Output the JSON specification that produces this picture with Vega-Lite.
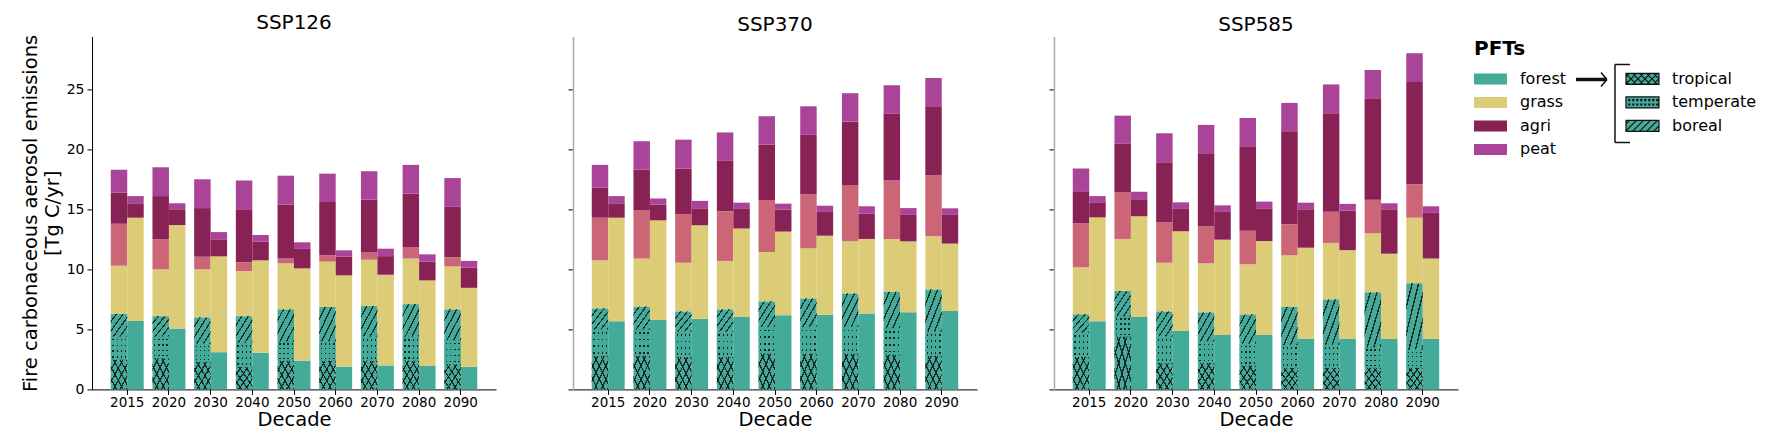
{
  "$schema": "https://vega.github.io/schema/vega-lite/v6.json",
  "background": "white",
  "padding": {"left": 20, "top": 12.4, "right": 5, "bottom": 3},
  "config": {
    "view": {"stroke": null},
    "font": "DejaVu Sans",
    "title": {"font": "DejaVu Sans", "fontSize": 20, "fontWeight": "normal", "offset": 1, "color": "black"},
    "axis": {"labelFont": "DejaVu Sans", "titleFont": "DejaVu Sans", "labelColor": "black", "titleColor": "black", "tickColor": "black", "domainColor": "black", "grid": false, "titleFontWeight": "normal", "tickSize": 5}
  },
  "data": {"values": [
    {"s":"SSP126","d":2015,"m":"L","tropical":2.5,"temperate":1.9,"boreal":1.9,"grass":4.0,"other":3.5,"agri":2.6,"peat":1.9},
    {"s":"SSP126","d":2020,"m":"L","tropical":2.6,"temperate":1.8,"boreal":1.7,"grass":3.9,"other":2.5,"agri":3.6,"peat":2.4},
    {"s":"SSP126","d":2030,"m":"L","tropical":2.3,"temperate":1.5,"boreal":2.2,"grass":4.0,"other":1.05,"agri":4.05,"peat":2.4},
    {"s":"SSP126","d":2040,"m":"L","tropical":1.9,"temperate":2.0,"boreal":2.2,"grass":3.76,"other":0.74,"agri":4.4,"peat":2.4},
    {"s":"SSP126","d":2050,"m":"L","tropical":2.4,"temperate":1.6,"boreal":2.67,"grass":3.83,"other":0.4,"agri":4.5,"peat":2.4},
    {"s":"SSP126","d":2060,"m":"L","tropical":2.4,"temperate":1.6,"boreal":2.86,"grass":3.78,"other":0.53,"agri":4.43,"peat":2.37},
    {"s":"SSP126","d":2070,"m":"L","tropical":2.4,"temperate":2.0,"boreal":2.54,"grass":3.86,"other":0.6,"agri":4.4,"peat":2.37},
    {"s":"SSP126","d":2080,"m":"L","tropical":2.4,"temperate":2.0,"boreal":2.7,"grass":3.8,"other":0.96,"agri":4.44,"peat":2.4},
    {"s":"SSP126","d":2090,"m":"L","tropical":2.1,"temperate":2.0,"boreal":2.57,"grass":3.57,"other":0.76,"agri":4.2,"peat":2.4},
    {"s":"SSP126","d":2015,"m":"R","forest":5.7,"grass":8.6,"agri":1.2,"peat":0.6},
    {"s":"SSP126","d":2020,"m":"R","forest":5.08,"grass":8.62,"agri":1.3,"peat":0.5},
    {"s":"SSP126","d":2030,"m":"R","forest":3.1,"grass":7.98,"agri":1.42,"peat":0.6},
    {"s":"SSP126","d":2040,"m":"R","forest":3.05,"grass":7.7,"agri":1.55,"peat":0.56},
    {"s":"SSP126","d":2050,"m":"R","forest":2.4,"grass":7.68,"agri":1.62,"peat":0.55},
    {"s":"SSP126","d":2060,"m":"R","forest":1.9,"grass":7.6,"agri":1.56,"peat":0.52},
    {"s":"SSP126","d":2070,"m":"R","forest":2.0,"grass":7.55,"agri":1.55,"peat":0.62},
    {"s":"SSP126","d":2080,"m":"R","forest":1.95,"grass":7.13,"agri":1.56,"peat":0.61},
    {"s":"SSP126","d":2090,"m":"R","forest":1.88,"grass":6.58,"agri":1.69,"peat":0.55},
    {"s":"SSP370","d":2015,"m":"L","tropical":2.8,"temperate":2.2,"boreal":1.75,"grass":4.0,"other":3.55,"agri":2.5,"peat":1.9},
    {"s":"SSP370","d":2020,"m":"L","tropical":2.8,"temperate":2.2,"boreal":1.9,"grass":4.0,"other":4.0,"agri":3.4,"peat":2.37},
    {"s":"SSP370","d":2030,"m":"L","tropical":2.7,"temperate":2.1,"boreal":1.7,"grass":4.05,"other":4.05,"agri":3.8,"peat":2.4},
    {"s":"SSP370","d":2040,"m":"L","tropical":2.7,"temperate":2.1,"boreal":1.87,"grass":4.03,"other":4.13,"agri":4.2,"peat":2.37},
    {"s":"SSP370","d":2050,"m":"L","tropical":3.0,"temperate":2.2,"boreal":2.13,"grass":4.11,"other":4.34,"agri":4.62,"peat":2.35},
    {"s":"SSP370","d":2060,"m":"L","tropical":3.0,"temperate":2.2,"boreal":2.38,"grass":4.18,"other":4.49,"agri":4.95,"peat":2.38},
    {"s":"SSP370","d":2070,"m":"L","tropical":3.0,"temperate":2.2,"boreal":2.8,"grass":4.33,"other":4.7,"agri":5.27,"peat":2.37},
    {"s":"SSP370","d":2080,"m":"L","tropical":2.9,"temperate":2.2,"boreal":3.04,"grass":4.39,"other":4.87,"agri":5.57,"peat":2.36},
    {"s":"SSP370","d":2090,"m":"L","tropical":2.8,"temperate":2.0,"boreal":3.53,"grass":4.42,"other":5.08,"agri":5.75,"peat":2.36},
    {"s":"SSP370","d":2015,"m":"R","forest":5.67,"grass":8.63,"agri":1.2,"peat":0.6},
    {"s":"SSP370","d":2020,"m":"R","forest":5.78,"grass":8.3,"agri":1.32,"peat":0.5},
    {"s":"SSP370","d":2030,"m":"R","forest":5.89,"grass":7.78,"agri":1.41,"peat":0.62},
    {"s":"SSP370","d":2040,"m":"R","forest":6.03,"grass":7.37,"agri":1.63,"peat":0.52},
    {"s":"SSP370","d":2050,"m":"R","forest":6.17,"grass":6.97,"agri":1.83,"peat":0.5},
    {"s":"SSP370","d":2060,"m":"R","forest":6.22,"grass":6.58,"agri":1.98,"peat":0.52},
    {"s":"SSP370","d":2070,"m":"R","forest":6.33,"grass":6.2,"agri":2.11,"peat":0.61},
    {"s":"SSP370","d":2080,"m":"R","forest":6.42,"grass":5.91,"agri":2.25,"peat":0.52},
    {"s":"SSP370","d":2090,"m":"R","forest":6.53,"grass":5.61,"agri":2.44,"peat":0.5},
    {"s":"SSP585","d":2015,"m":"L","tropical":2.7,"temperate":2.0,"boreal":1.55,"grass":3.92,"other":3.66,"agri":2.67,"peat":1.9},
    {"s":"SSP585","d":2020,"m":"L","tropical":4.4,"temperate":1.7,"boreal":2.09,"grass":4.34,"other":3.87,"agri":4.05,"peat":2.35},
    {"s":"SSP585","d":2030,"m":"L","tropical":2.2,"temperate":2.2,"boreal":2.1,"grass":4.05,"other":3.34,"agri":5.03,"peat":2.41},
    {"s":"SSP585","d":2040,"m":"L","tropical":2.2,"temperate":1.8,"boreal":2.42,"grass":4.08,"other":3.06,"agri":6.11,"peat":2.36},
    {"s":"SSP585","d":2050,"m":"L","tropical":2.0,"temperate":1.8,"boreal":2.45,"grass":4.17,"other":2.8,"agri":7.03,"peat":2.35},
    {"s":"SSP585","d":2060,"m":"L","tropical":1.8,"temperate":1.9,"boreal":3.16,"grass":4.31,"other":2.58,"agri":7.75,"peat":2.36},
    {"s":"SSP585","d":2070,"m":"L","tropical":1.8,"temperate":1.9,"boreal":3.8,"grass":4.7,"other":2.6,"agri":8.2,"peat":2.4},
    {"s":"SSP585","d":2080,"m":"L","tropical":1.8,"temperate":1.7,"boreal":4.6,"grass":4.9,"other":2.8,"agri":8.45,"peat":2.35},
    {"s":"SSP585","d":2090,"m":"L","tropical":1.8,"temperate":1.5,"boreal":5.55,"grass":5.45,"other":2.8,"agri":8.5,"peat":2.4},
    {"s":"SSP585","d":2015,"m":"R","forest":5.67,"grass":8.66,"agri":1.2,"peat":0.57},
    {"s":"SSP585","d":2020,"m":"R","forest":6.03,"grass":8.39,"agri":1.41,"peat":0.64},
    {"s":"SSP585","d":2030,"m":"R","forest":4.86,"grass":8.31,"agri":1.86,"peat":0.55},
    {"s":"SSP585","d":2040,"m":"R","forest":4.53,"grass":7.94,"agri":2.31,"peat":0.55},
    {"s":"SSP585","d":2050,"m":"R","forest":4.53,"grass":7.83,"agri":2.72,"peat":0.56},
    {"s":"SSP585","d":2060,"m":"R","forest":4.23,"grass":7.57,"agri":3.2,"peat":0.55},
    {"s":"SSP585","d":2070,"m":"R","forest":4.2,"grass":7.4,"agri":3.3,"peat":0.55},
    {"s":"SSP585","d":2080,"m":"R","forest":4.2,"grass":7.1,"agri":3.7,"peat":0.5},
    {"s":"SSP585","d":2090,"m":"R","forest":4.2,"grass":6.7,"agri":3.8,"peat":0.55}
  ]},
  "hconcat": [
    {
      "width": 404, "height": 353,
      "title": "SSP126",
      "transform": [
        {"filter": "datum.s === 'SSP126'"},
        {"fold": ["tropical","temperate","boreal","forest","grass","other","agri","peat"], "as": ["pft","v"]},
        {"filter": "isValid(datum.v)"},
        {"calculate": "indexof(['tropical','temperate','boreal','forest','grass','other','agri','peat'], datum.pft)", "as": "ord"},
        {"stack": "v", "groupby": ["d","m"], "sort": [{"field": "ord", "order": "ascending"}], "as": ["y0","y1"]}
      ],
      "encoding": {
        "x": {"field": "d", "type": "ordinal", "title": "Decade", "scale": {"paddingInner": 0.21, "paddingOuter": 0.45}, "axis": {"labelAngle": 0, "labelFontSize": 13.5, "titleFontSize": 19.5, "labelPadding": 1, "titlePadding": 2}},
        "xOffset": {"field": "m", "type": "nominal", "scale": {"domain": ["L","R"], "paddingInner": 0, "paddingOuter": 0}},
        "y": {"field": "y1", "type": "quantitative", "scale": {"domain": [0, 29.4], "nice": false}, "axis": {"values": [0,5,10,15,20,25], "title": ["Fire carbonaceous aerosol emissions", "[Tg C/yr]"], "titleFontSize": 19.5, "titlePadding": 4, "labelFontSize": 14, "labelPadding": 3}},
        "y2": {"field": "y0"}
      },
      "layer": [
        {"mark": {"type": "bar"}, "encoding": {"color": {"field": "pft", "type": "nominal", "title": "PFTs",
          "scale": {"domain": ["forest","tropical","grass","temperate","agri","boreal","peat","other"], "range": ["#44AA99","#44AA99","#DDCC77","#44AA99","#882255","#44AA99","#AA4499","#CC6677"]},
          "legend": {
            "values": ["forest","grass","agri","peat","tropical","temperate","boreal"],
            "orient": "none", "legendX": 1382, "legendY": 3,
            "columns": 2, "columnPadding": 56, "rowPadding": 7.5,
            "symbolType": "M-1,-0.69H3.125V0.69H-1Z", "symbolSize": 256, "symbolStrokeWidth": 0, "symbolOpacity": 1,
            "labelOffset": 30, "labelFontSize": 16, "labelFont": "DejaVu Sans", "labelColor": "black",
            "titleFontSize": 20, "titleFont": "DejaVu Sans", "titleFontWeight": "bold", "titleColor": "black", "titlePadding": 11.5,
            "encode": {"symbols": {"update": {
              "shape": {"signal": "datum.value === 'tropical' ? 'M-1,-0.69H3.125V0.69H-1ZM-1,-0.25L-0.56,-0.69M-1,0.625L0.315,-0.69M-0.19,0.69L1.19,-0.69M0.685,0.69L2.065,-0.69M1.56,0.69L2.94,-0.69M2.435,0.69L3.125,0M-1,0.25L-0.56,0.69M-1,-0.625L0.315,0.69M-0.19,-0.69L1.19,0.69M0.685,-0.69L2.065,0.69M1.56,-0.69L2.94,0.69M2.435,-0.69L3.125,0' : datum.value === 'temperate' ? 'M-1,-0.69H3.125V0.69H-1ZM-0.65,-0.35h0.12v0.12h-0.12ZM-0.15,-0.35h0.12v0.12h-0.12ZM0.35,-0.35h0.12v0.12h-0.12ZM0.85,-0.35h0.12v0.12h-0.12ZM1.35,-0.35h0.12v0.12h-0.12ZM1.85,-0.35h0.12v0.12h-0.12ZM2.35,-0.35h0.12v0.12h-0.12ZM2.85,-0.35h0.12v0.12h-0.12ZM-0.65,0.2h0.12v0.12h-0.12ZM-0.15,0.2h0.12v0.12h-0.12ZM0.35,0.2h0.12v0.12h-0.12ZM0.85,0.2h0.12v0.12h-0.12ZM1.35,0.2h0.12v0.12h-0.12ZM1.85,0.2h0.12v0.12h-0.12ZM2.35,0.2h0.12v0.12h-0.12ZM2.85,0.2h0.12v0.12h-0.12Z' : datum.value === 'boreal' ? 'M-1,-0.69H3.125V0.69H-1ZM-1,-0.25L-0.56,-0.69M-1,0.625L0.315,-0.69M-0.19,0.69L1.19,-0.69M0.685,0.69L2.065,-0.69M1.56,0.69L2.94,-0.69M2.435,0.69L3.125,0' : 'M-1,-0.69H3.125V0.69H-1Z'"},
              "stroke": {"signal": "indexof(['tropical','temperate','boreal'], datum.value) >= 0 ? '#111111' : 'transparent'"},
              "strokeWidth": {"signal": "indexof(['tropical','temperate','boreal'], datum.value) >= 0 ? 1.2 : 0"}
            }}}
          }}}},
        {"transform": [{"filter": "datum.pft === 'tropical'"}], "mark": {"type": "bar", "fill": {"gradient":"linear","x1":0,"y1":0,"x2":1,"y2":1,"stops":[{"offset":0,"color":"rgba(0,0,0,0)"},{"offset":0.156,"color":"rgba(0,0,0,0)"},{"offset":0.156,"color":"rgba(20,20,20,0.85)"},{"offset":0.2,"color":"rgba(20,20,20,0.85)"},{"offset":0.2,"color":"rgba(0,0,0,0)"},{"offset":0.356,"color":"rgba(0,0,0,0)"},{"offset":0.356,"color":"rgba(20,20,20,0.85)"},{"offset":0.4,"color":"rgba(20,20,20,0.85)"},{"offset":0.4,"color":"rgba(0,0,0,0)"},{"offset":0.556,"color":"rgba(0,0,0,0)"},{"offset":0.556,"color":"rgba(20,20,20,0.85)"},{"offset":0.6,"color":"rgba(20,20,20,0.85)"},{"offset":0.6,"color":"rgba(0,0,0,0)"},{"offset":0.756,"color":"rgba(0,0,0,0)"},{"offset":0.756,"color":"rgba(20,20,20,0.85)"},{"offset":0.8,"color":"rgba(20,20,20,0.85)"},{"offset":0.8,"color":"rgba(0,0,0,0)"},{"offset":0.956,"color":"rgba(0,0,0,0)"},{"offset":0.956,"color":"rgba(20,20,20,0.85)"},{"offset":1,"color":"rgba(20,20,20,0.85)"}]}}},
        {"transform": [{"filter": "datum.pft === 'tropical'"}], "mark": {"type": "bar", "fill": {"gradient":"linear","x1":0,"y1":1,"x2":1,"y2":0,"stops":[{"offset":0,"color":"rgba(0,0,0,0)"},{"offset":0.156,"color":"rgba(0,0,0,0)"},{"offset":0.156,"color":"rgba(20,20,20,0.85)"},{"offset":0.2,"color":"rgba(20,20,20,0.85)"},{"offset":0.2,"color":"rgba(0,0,0,0)"},{"offset":0.356,"color":"rgba(0,0,0,0)"},{"offset":0.356,"color":"rgba(20,20,20,0.85)"},{"offset":0.4,"color":"rgba(20,20,20,0.85)"},{"offset":0.4,"color":"rgba(0,0,0,0)"},{"offset":0.556,"color":"rgba(0,0,0,0)"},{"offset":0.556,"color":"rgba(20,20,20,0.85)"},{"offset":0.6,"color":"rgba(20,20,20,0.85)"},{"offset":0.6,"color":"rgba(0,0,0,0)"},{"offset":0.756,"color":"rgba(0,0,0,0)"},{"offset":0.756,"color":"rgba(20,20,20,0.85)"},{"offset":0.8,"color":"rgba(20,20,20,0.85)"},{"offset":0.8,"color":"rgba(0,0,0,0)"},{"offset":0.956,"color":"rgba(0,0,0,0)"},{"offset":0.956,"color":"rgba(20,20,20,0.85)"},{"offset":1,"color":"rgba(20,20,20,0.85)"}]}}},
        {"transform": [{"filter": "datum.pft === 'temperate'"}], "mark": {"type": "bar", "fill": {"gradient":"linear","x1":0,"y1":0,"x2":1,"y2":0,"stops":[{"offset":0,"color":"rgba(0,0,0,0)"},{"offset":0.1,"color":"rgba(0,0,0,0)"},{"offset":0.1,"color":"rgba(20,20,20,0.9)"},{"offset":0.18,"color":"rgba(20,20,20,0.9)"},{"offset":0.18,"color":"rgba(0,0,0,0)"},{"offset":0.35,"color":"rgba(0,0,0,0)"},{"offset":0.35,"color":"rgba(20,20,20,0.9)"},{"offset":0.43,"color":"rgba(20,20,20,0.9)"},{"offset":0.43,"color":"rgba(0,0,0,0)"},{"offset":0.6,"color":"rgba(0,0,0,0)"},{"offset":0.6,"color":"rgba(20,20,20,0.9)"},{"offset":0.68,"color":"rgba(20,20,20,0.9)"},{"offset":0.68,"color":"rgba(0,0,0,0)"},{"offset":0.85,"color":"rgba(0,0,0,0)"},{"offset":0.85,"color":"rgba(20,20,20,0.9)"},{"offset":0.93,"color":"rgba(20,20,20,0.9)"},{"offset":0.93,"color":"rgba(0,0,0,0)"},{"offset":1,"color":"rgba(0,0,0,0)"}]}}},
        {"transform": [{"filter": "datum.pft === 'temperate'"}], "mark": {"type": "bar", "fill": {"gradient":"linear","x1":0,"y1":0,"x2":0,"y2":1,"stops":[{"offset":0,"color":"#44AA99"},{"offset":0.1,"color":"#44AA99"},{"offset":0.1,"color":"rgba(0,0,0,0)"},{"offset":0.17,"color":"rgba(0,0,0,0)"},{"offset":0.17,"color":"#44AA99"},{"offset":0.35,"color":"#44AA99"},{"offset":0.35,"color":"rgba(0,0,0,0)"},{"offset":0.42,"color":"rgba(0,0,0,0)"},{"offset":0.42,"color":"#44AA99"},{"offset":0.6,"color":"#44AA99"},{"offset":0.6,"color":"rgba(0,0,0,0)"},{"offset":0.67,"color":"rgba(0,0,0,0)"},{"offset":0.67,"color":"#44AA99"},{"offset":0.85,"color":"#44AA99"},{"offset":0.85,"color":"rgba(0,0,0,0)"},{"offset":0.92,"color":"rgba(0,0,0,0)"},{"offset":0.92,"color":"#44AA99"},{"offset":1,"color":"#44AA99"}]}}},
        {"transform": [{"filter": "datum.pft === 'boreal'"}], "mark": {"type": "bar", "fill": {"gradient":"linear","x1":0,"y1":0,"x2":1,"y2":1,"stops":[{"offset":0,"color":"rgba(0,0,0,0)"},{"offset":0.156,"color":"rgba(0,0,0,0)"},{"offset":0.156,"color":"rgba(20,20,20,0.85)"},{"offset":0.2,"color":"rgba(20,20,20,0.85)"},{"offset":0.2,"color":"rgba(0,0,0,0)"},{"offset":0.356,"color":"rgba(0,0,0,0)"},{"offset":0.356,"color":"rgba(20,20,20,0.85)"},{"offset":0.4,"color":"rgba(20,20,20,0.85)"},{"offset":0.4,"color":"rgba(0,0,0,0)"},{"offset":0.556,"color":"rgba(0,0,0,0)"},{"offset":0.556,"color":"rgba(20,20,20,0.85)"},{"offset":0.6,"color":"rgba(20,20,20,0.85)"},{"offset":0.6,"color":"rgba(0,0,0,0)"},{"offset":0.756,"color":"rgba(0,0,0,0)"},{"offset":0.756,"color":"rgba(20,20,20,0.85)"},{"offset":0.8,"color":"rgba(20,20,20,0.85)"},{"offset":0.8,"color":"rgba(0,0,0,0)"},{"offset":0.956,"color":"rgba(0,0,0,0)"},{"offset":0.956,"color":"rgba(20,20,20,0.85)"},{"offset":1,"color":"rgba(20,20,20,0.85)"}]}}},
        {"transform": [{"filter": "datum.pft === 'tropical'"}], "mark": {"type": "point", "opacity": 0, "color": "#111111", "filled": false},
          "encoding": {"shape": {"field": "m", "type": "nominal",
            "scale": {"domain": ["L","R"], "range": ["M-1,-0.615H-0.205M-1,-0.59H-0.22M-1,-0.64H-0.22M-0.359,-0.795L-0.205,-0.615M-0.205,-0.615L-0.359,-0.435M0,-1H0.385M0,-1V1M0,1H0.385", "M-1,-0.615H-0.205M-1,-0.59H-0.22M-1,-0.64H-0.22M-0.359,-0.795L-0.205,-0.615M-0.205,-0.615L-0.359,-0.435M0,-1H0.385M0,-1V1M0,1H0.385"]},
            "legend": {"values": ["L"], "title": null, "labelExpr": "''", "orient": "none", "legendX": 1483, "legendY": 27,
              "symbolSize": 6084, "symbolStrokeWidth": 1.5, "symbolStrokeColor": "#111111", "symbolFillColor": "transparent", "symbolOpacity": 1, "labelOffset": 0,
              "encode": {"symbols": {"update": {"opacity": {"value": 1}, "strokeOpacity": {"value": 1}, "fill": {"value": "transparent"}, "stroke": {"value": "#111111"}, "strokeWidth": {"value": 1.5}, "size": {"value": 6084}}}}}}}}
      ]
    },
    {
      "width": 404, "height": 353,
      "title": "SSP370",
      "transform": [
        {"filter": "datum.s === 'SSP370'"},
        {"fold": ["tropical","temperate","boreal","forest","grass","other","agri","peat"], "as": ["pft","v"]},
        {"filter": "isValid(datum.v)"},
        {"calculate": "indexof(['tropical','temperate','boreal','forest','grass','other','agri','peat'], datum.pft)", "as": "ord"},
        {"stack": "v", "groupby": ["d","m"], "sort": [{"field": "ord", "order": "ascending"}], "as": ["y0","y1"]}
      ],
      "encoding": {
        "x": {"field": "d", "type": "ordinal", "title": "Decade", "scale": {"paddingInner": 0.21, "paddingOuter": 0.45}, "axis": {"labelAngle": 0, "labelFontSize": 13.5, "titleFontSize": 19.5, "labelPadding": 1, "titlePadding": 2}},
        "xOffset": {"field": "m", "type": "nominal", "scale": {"domain": ["L","R"], "paddingInner": 0, "paddingOuter": 0}},
        "y": {"field": "y1", "type": "quantitative", "scale": {"domain": [0, 29.4], "nice": false}, "axis": {"values": [0,5,10,15,20,25], "labels": false, "title": null, "domainColor": "#aaaaaa", "domainWidth": 1.5}},
        "y2": {"field": "y0"}
      },
      "layer": [
        {"mark": {"type": "bar"}, "encoding": {"color": {"field": "pft", "type": "nominal", "scale": {"domain": ["forest","tropical","grass","temperate","agri","boreal","peat","other"], "range": ["#44AA99","#44AA99","#DDCC77","#44AA99","#882255","#44AA99","#AA4499","#CC6677"]}, "legend": null}}},
        {"transform": [{"filter": "datum.pft === 'tropical'"}], "mark": {"type": "bar", "fill": {"gradient":"linear","x1":0,"y1":0,"x2":1,"y2":1,"stops":[{"offset":0,"color":"rgba(0,0,0,0)"},{"offset":0.156,"color":"rgba(0,0,0,0)"},{"offset":0.156,"color":"rgba(20,20,20,0.85)"},{"offset":0.2,"color":"rgba(20,20,20,0.85)"},{"offset":0.2,"color":"rgba(0,0,0,0)"},{"offset":0.356,"color":"rgba(0,0,0,0)"},{"offset":0.356,"color":"rgba(20,20,20,0.85)"},{"offset":0.4,"color":"rgba(20,20,20,0.85)"},{"offset":0.4,"color":"rgba(0,0,0,0)"},{"offset":0.556,"color":"rgba(0,0,0,0)"},{"offset":0.556,"color":"rgba(20,20,20,0.85)"},{"offset":0.6,"color":"rgba(20,20,20,0.85)"},{"offset":0.6,"color":"rgba(0,0,0,0)"},{"offset":0.756,"color":"rgba(0,0,0,0)"},{"offset":0.756,"color":"rgba(20,20,20,0.85)"},{"offset":0.8,"color":"rgba(20,20,20,0.85)"},{"offset":0.8,"color":"rgba(0,0,0,0)"},{"offset":0.956,"color":"rgba(0,0,0,0)"},{"offset":0.956,"color":"rgba(20,20,20,0.85)"},{"offset":1,"color":"rgba(20,20,20,0.85)"}]}}},
        {"transform": [{"filter": "datum.pft === 'tropical'"}], "mark": {"type": "bar", "fill": {"gradient":"linear","x1":0,"y1":1,"x2":1,"y2":0,"stops":[{"offset":0,"color":"rgba(0,0,0,0)"},{"offset":0.156,"color":"rgba(0,0,0,0)"},{"offset":0.156,"color":"rgba(20,20,20,0.85)"},{"offset":0.2,"color":"rgba(20,20,20,0.85)"},{"offset":0.2,"color":"rgba(0,0,0,0)"},{"offset":0.356,"color":"rgba(0,0,0,0)"},{"offset":0.356,"color":"rgba(20,20,20,0.85)"},{"offset":0.4,"color":"rgba(20,20,20,0.85)"},{"offset":0.4,"color":"rgba(0,0,0,0)"},{"offset":0.556,"color":"rgba(0,0,0,0)"},{"offset":0.556,"color":"rgba(20,20,20,0.85)"},{"offset":0.6,"color":"rgba(20,20,20,0.85)"},{"offset":0.6,"color":"rgba(0,0,0,0)"},{"offset":0.756,"color":"rgba(0,0,0,0)"},{"offset":0.756,"color":"rgba(20,20,20,0.85)"},{"offset":0.8,"color":"rgba(20,20,20,0.85)"},{"offset":0.8,"color":"rgba(0,0,0,0)"},{"offset":0.956,"color":"rgba(0,0,0,0)"},{"offset":0.956,"color":"rgba(20,20,20,0.85)"},{"offset":1,"color":"rgba(20,20,20,0.85)"}]}}},
        {"transform": [{"filter": "datum.pft === 'temperate'"}], "mark": {"type": "bar", "fill": {"gradient":"linear","x1":0,"y1":0,"x2":1,"y2":0,"stops":[{"offset":0,"color":"rgba(0,0,0,0)"},{"offset":0.1,"color":"rgba(0,0,0,0)"},{"offset":0.1,"color":"rgba(20,20,20,0.9)"},{"offset":0.18,"color":"rgba(20,20,20,0.9)"},{"offset":0.18,"color":"rgba(0,0,0,0)"},{"offset":0.35,"color":"rgba(0,0,0,0)"},{"offset":0.35,"color":"rgba(20,20,20,0.9)"},{"offset":0.43,"color":"rgba(20,20,20,0.9)"},{"offset":0.43,"color":"rgba(0,0,0,0)"},{"offset":0.6,"color":"rgba(0,0,0,0)"},{"offset":0.6,"color":"rgba(20,20,20,0.9)"},{"offset":0.68,"color":"rgba(20,20,20,0.9)"},{"offset":0.68,"color":"rgba(0,0,0,0)"},{"offset":0.85,"color":"rgba(0,0,0,0)"},{"offset":0.85,"color":"rgba(20,20,20,0.9)"},{"offset":0.93,"color":"rgba(20,20,20,0.9)"},{"offset":0.93,"color":"rgba(0,0,0,0)"},{"offset":1,"color":"rgba(0,0,0,0)"}]}}},
        {"transform": [{"filter": "datum.pft === 'temperate'"}], "mark": {"type": "bar", "fill": {"gradient":"linear","x1":0,"y1":0,"x2":0,"y2":1,"stops":[{"offset":0,"color":"#44AA99"},{"offset":0.1,"color":"#44AA99"},{"offset":0.1,"color":"rgba(0,0,0,0)"},{"offset":0.17,"color":"rgba(0,0,0,0)"},{"offset":0.17,"color":"#44AA99"},{"offset":0.35,"color":"#44AA99"},{"offset":0.35,"color":"rgba(0,0,0,0)"},{"offset":0.42,"color":"rgba(0,0,0,0)"},{"offset":0.42,"color":"#44AA99"},{"offset":0.6,"color":"#44AA99"},{"offset":0.6,"color":"rgba(0,0,0,0)"},{"offset":0.67,"color":"rgba(0,0,0,0)"},{"offset":0.67,"color":"#44AA99"},{"offset":0.85,"color":"#44AA99"},{"offset":0.85,"color":"rgba(0,0,0,0)"},{"offset":0.92,"color":"rgba(0,0,0,0)"},{"offset":0.92,"color":"#44AA99"},{"offset":1,"color":"#44AA99"}]}}},
        {"transform": [{"filter": "datum.pft === 'boreal'"}], "mark": {"type": "bar", "fill": {"gradient":"linear","x1":0,"y1":0,"x2":1,"y2":1,"stops":[{"offset":0,"color":"rgba(0,0,0,0)"},{"offset":0.156,"color":"rgba(0,0,0,0)"},{"offset":0.156,"color":"rgba(20,20,20,0.85)"},{"offset":0.2,"color":"rgba(20,20,20,0.85)"},{"offset":0.2,"color":"rgba(0,0,0,0)"},{"offset":0.356,"color":"rgba(0,0,0,0)"},{"offset":0.356,"color":"rgba(20,20,20,0.85)"},{"offset":0.4,"color":"rgba(20,20,20,0.85)"},{"offset":0.4,"color":"rgba(0,0,0,0)"},{"offset":0.556,"color":"rgba(0,0,0,0)"},{"offset":0.556,"color":"rgba(20,20,20,0.85)"},{"offset":0.6,"color":"rgba(20,20,20,0.85)"},{"offset":0.6,"color":"rgba(0,0,0,0)"},{"offset":0.756,"color":"rgba(0,0,0,0)"},{"offset":0.756,"color":"rgba(20,20,20,0.85)"},{"offset":0.8,"color":"rgba(20,20,20,0.85)"},{"offset":0.8,"color":"rgba(0,0,0,0)"},{"offset":0.956,"color":"rgba(0,0,0,0)"},{"offset":0.956,"color":"rgba(20,20,20,0.85)"},{"offset":1,"color":"rgba(20,20,20,0.85)"}]}}}
      ]
    },
    {
      "width": 404, "height": 353,
      "title": "SSP585",
      "transform": [
        {"filter": "datum.s === 'SSP585'"},
        {"fold": ["tropical","temperate","boreal","forest","grass","other","agri","peat"], "as": ["pft","v"]},
        {"filter": "isValid(datum.v)"},
        {"calculate": "indexof(['tropical','temperate','boreal','forest','grass','other','agri','peat'], datum.pft)", "as": "ord"},
        {"stack": "v", "groupby": ["d","m"], "sort": [{"field": "ord", "order": "ascending"}], "as": ["y0","y1"]}
      ],
      "encoding": {
        "x": {"field": "d", "type": "ordinal", "title": "Decade", "scale": {"paddingInner": 0.21, "paddingOuter": 0.45}, "axis": {"labelAngle": 0, "labelFontSize": 13.5, "titleFontSize": 19.5, "labelPadding": 1, "titlePadding": 2}},
        "xOffset": {"field": "m", "type": "nominal", "scale": {"domain": ["L","R"], "paddingInner": 0, "paddingOuter": 0}},
        "y": {"field": "y1", "type": "quantitative", "scale": {"domain": [0, 29.4], "nice": false}, "axis": {"values": [0,5,10,15,20,25], "labels": false, "title": null, "domainColor": "#aaaaaa", "domainWidth": 1.5}},
        "y2": {"field": "y0"}
      },
      "layer": [
        {"mark": {"type": "bar"}, "encoding": {"color": {"field": "pft", "type": "nominal", "scale": {"domain": ["forest","tropical","grass","temperate","agri","boreal","peat","other"], "range": ["#44AA99","#44AA99","#DDCC77","#44AA99","#882255","#44AA99","#AA4499","#CC6677"]}, "legend": null}}},
        {"transform": [{"filter": "datum.pft === 'tropical'"}], "mark": {"type": "bar", "fill": {"gradient":"linear","x1":0,"y1":0,"x2":1,"y2":1,"stops":[{"offset":0,"color":"rgba(0,0,0,0)"},{"offset":0.156,"color":"rgba(0,0,0,0)"},{"offset":0.156,"color":"rgba(20,20,20,0.85)"},{"offset":0.2,"color":"rgba(20,20,20,0.85)"},{"offset":0.2,"color":"rgba(0,0,0,0)"},{"offset":0.356,"color":"rgba(0,0,0,0)"},{"offset":0.356,"color":"rgba(20,20,20,0.85)"},{"offset":0.4,"color":"rgba(20,20,20,0.85)"},{"offset":0.4,"color":"rgba(0,0,0,0)"},{"offset":0.556,"color":"rgba(0,0,0,0)"},{"offset":0.556,"color":"rgba(20,20,20,0.85)"},{"offset":0.6,"color":"rgba(20,20,20,0.85)"},{"offset":0.6,"color":"rgba(0,0,0,0)"},{"offset":0.756,"color":"rgba(0,0,0,0)"},{"offset":0.756,"color":"rgba(20,20,20,0.85)"},{"offset":0.8,"color":"rgba(20,20,20,0.85)"},{"offset":0.8,"color":"rgba(0,0,0,0)"},{"offset":0.956,"color":"rgba(0,0,0,0)"},{"offset":0.956,"color":"rgba(20,20,20,0.85)"},{"offset":1,"color":"rgba(20,20,20,0.85)"}]}}},
        {"transform": [{"filter": "datum.pft === 'tropical'"}], "mark": {"type": "bar", "fill": {"gradient":"linear","x1":0,"y1":1,"x2":1,"y2":0,"stops":[{"offset":0,"color":"rgba(0,0,0,0)"},{"offset":0.156,"color":"rgba(0,0,0,0)"},{"offset":0.156,"color":"rgba(20,20,20,0.85)"},{"offset":0.2,"color":"rgba(20,20,20,0.85)"},{"offset":0.2,"color":"rgba(0,0,0,0)"},{"offset":0.356,"color":"rgba(0,0,0,0)"},{"offset":0.356,"color":"rgba(20,20,20,0.85)"},{"offset":0.4,"color":"rgba(20,20,20,0.85)"},{"offset":0.4,"color":"rgba(0,0,0,0)"},{"offset":0.556,"color":"rgba(0,0,0,0)"},{"offset":0.556,"color":"rgba(20,20,20,0.85)"},{"offset":0.6,"color":"rgba(20,20,20,0.85)"},{"offset":0.6,"color":"rgba(0,0,0,0)"},{"offset":0.756,"color":"rgba(0,0,0,0)"},{"offset":0.756,"color":"rgba(20,20,20,0.85)"},{"offset":0.8,"color":"rgba(20,20,20,0.85)"},{"offset":0.8,"color":"rgba(0,0,0,0)"},{"offset":0.956,"color":"rgba(0,0,0,0)"},{"offset":0.956,"color":"rgba(20,20,20,0.85)"},{"offset":1,"color":"rgba(20,20,20,0.85)"}]}}},
        {"transform": [{"filter": "datum.pft === 'temperate'"}], "mark": {"type": "bar", "fill": {"gradient":"linear","x1":0,"y1":0,"x2":1,"y2":0,"stops":[{"offset":0,"color":"rgba(0,0,0,0)"},{"offset":0.1,"color":"rgba(0,0,0,0)"},{"offset":0.1,"color":"rgba(20,20,20,0.9)"},{"offset":0.18,"color":"rgba(20,20,20,0.9)"},{"offset":0.18,"color":"rgba(0,0,0,0)"},{"offset":0.35,"color":"rgba(0,0,0,0)"},{"offset":0.35,"color":"rgba(20,20,20,0.9)"},{"offset":0.43,"color":"rgba(20,20,20,0.9)"},{"offset":0.43,"color":"rgba(0,0,0,0)"},{"offset":0.6,"color":"rgba(0,0,0,0)"},{"offset":0.6,"color":"rgba(20,20,20,0.9)"},{"offset":0.68,"color":"rgba(20,20,20,0.9)"},{"offset":0.68,"color":"rgba(0,0,0,0)"},{"offset":0.85,"color":"rgba(0,0,0,0)"},{"offset":0.85,"color":"rgba(20,20,20,0.9)"},{"offset":0.93,"color":"rgba(20,20,20,0.9)"},{"offset":0.93,"color":"rgba(0,0,0,0)"},{"offset":1,"color":"rgba(0,0,0,0)"}]}}},
        {"transform": [{"filter": "datum.pft === 'temperate'"}], "mark": {"type": "bar", "fill": {"gradient":"linear","x1":0,"y1":0,"x2":0,"y2":1,"stops":[{"offset":0,"color":"#44AA99"},{"offset":0.1,"color":"#44AA99"},{"offset":0.1,"color":"rgba(0,0,0,0)"},{"offset":0.17,"color":"rgba(0,0,0,0)"},{"offset":0.17,"color":"#44AA99"},{"offset":0.35,"color":"#44AA99"},{"offset":0.35,"color":"rgba(0,0,0,0)"},{"offset":0.42,"color":"rgba(0,0,0,0)"},{"offset":0.42,"color":"#44AA99"},{"offset":0.6,"color":"#44AA99"},{"offset":0.6,"color":"rgba(0,0,0,0)"},{"offset":0.67,"color":"rgba(0,0,0,0)"},{"offset":0.67,"color":"#44AA99"},{"offset":0.85,"color":"#44AA99"},{"offset":0.85,"color":"rgba(0,0,0,0)"},{"offset":0.92,"color":"rgba(0,0,0,0)"},{"offset":0.92,"color":"#44AA99"},{"offset":1,"color":"#44AA99"}]}}},
        {"transform": [{"filter": "datum.pft === 'boreal'"}], "mark": {"type": "bar", "fill": {"gradient":"linear","x1":0,"y1":0,"x2":1,"y2":1,"stops":[{"offset":0,"color":"rgba(0,0,0,0)"},{"offset":0.156,"color":"rgba(0,0,0,0)"},{"offset":0.156,"color":"rgba(20,20,20,0.85)"},{"offset":0.2,"color":"rgba(20,20,20,0.85)"},{"offset":0.2,"color":"rgba(0,0,0,0)"},{"offset":0.356,"color":"rgba(0,0,0,0)"},{"offset":0.356,"color":"rgba(20,20,20,0.85)"},{"offset":0.4,"color":"rgba(20,20,20,0.85)"},{"offset":0.4,"color":"rgba(0,0,0,0)"},{"offset":0.556,"color":"rgba(0,0,0,0)"},{"offset":0.556,"color":"rgba(20,20,20,0.85)"},{"offset":0.6,"color":"rgba(20,20,20,0.85)"},{"offset":0.6,"color":"rgba(0,0,0,0)"},{"offset":0.756,"color":"rgba(0,0,0,0)"},{"offset":0.756,"color":"rgba(20,20,20,0.85)"},{"offset":0.8,"color":"rgba(20,20,20,0.85)"},{"offset":0.8,"color":"rgba(0,0,0,0)"},{"offset":0.956,"color":"rgba(0,0,0,0)"},{"offset":0.956,"color":"rgba(20,20,20,0.85)"},{"offset":1,"color":"rgba(20,20,20,0.85)"}]}}}
      ]
    }
  ],
  "spacing": 77,
  "bounds": "flush",
  "resolve": {"scale": {"color": "independent", "shape": "independent"}, "legend": {"color": "independent", "shape": "independent"}}
}
